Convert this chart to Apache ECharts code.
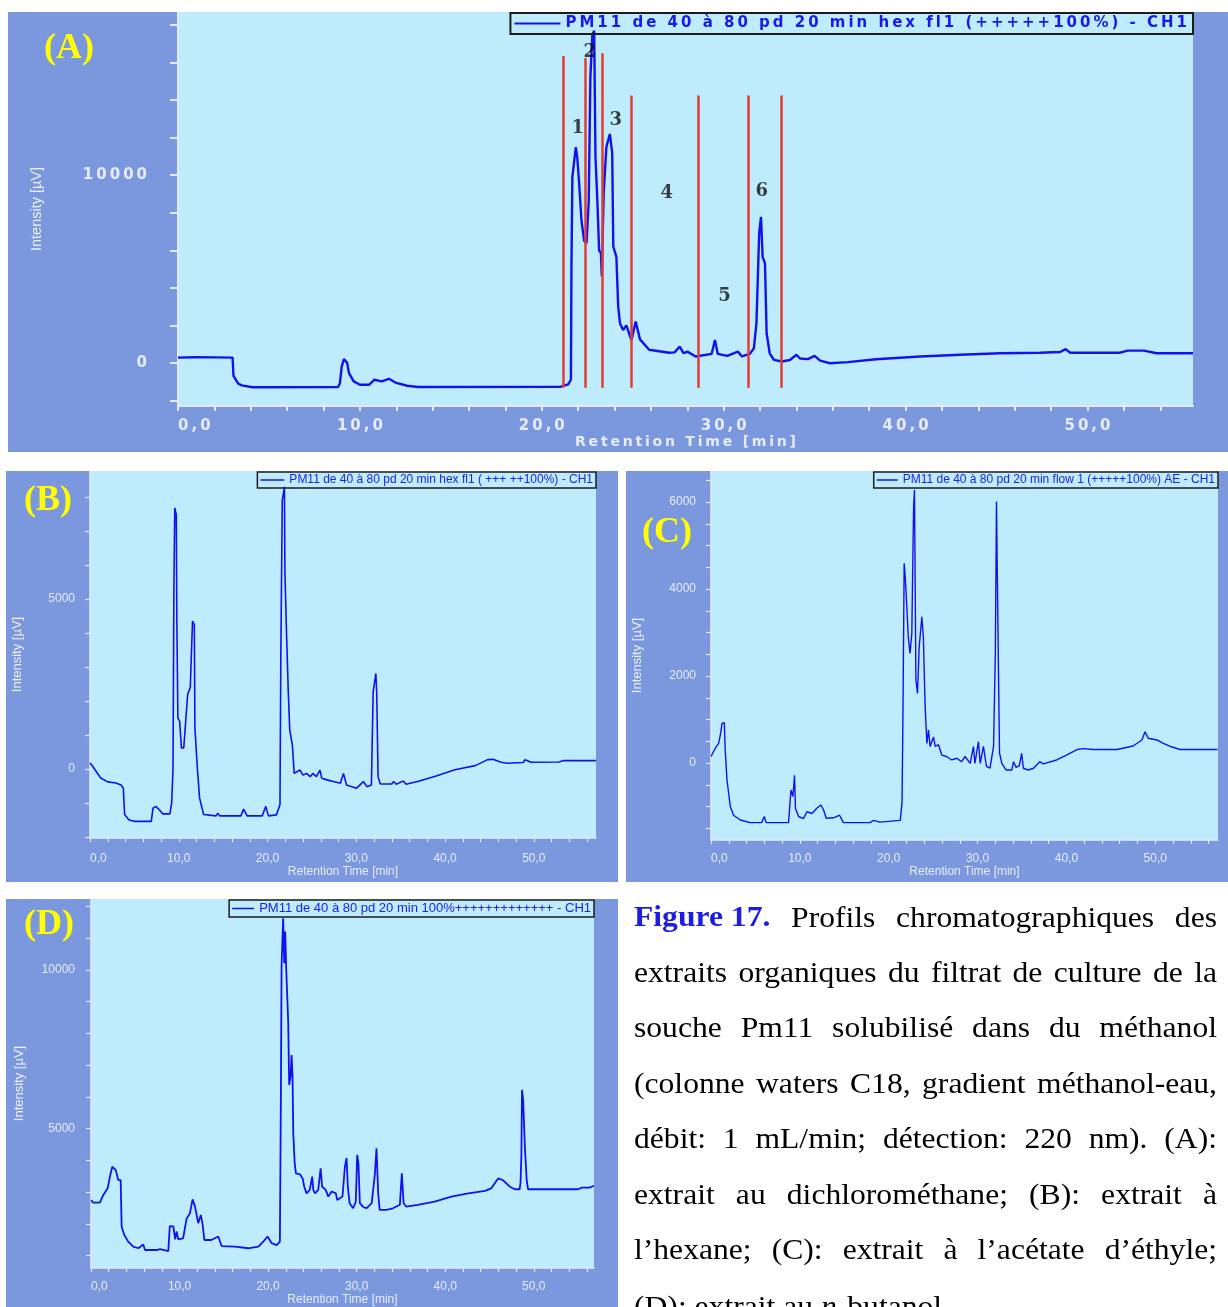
<!DOCTYPE html>
<html>
<head>
<meta charset="utf-8">
<script src="https://cdn.jsdelivr.net/npm/echarts@6/dist/echarts.min.js"></script>
<style>
  html, body { margin: 0; padding: 0; background: #ffffff; }
  #chart { width: 1228px; height: 1307px; }
</style>
</head>
<body>
<div id="chart"></div>
<script>
// ---------- chromatogram data: [retention time (min), intensity (µV)] ----------
const traceA = [[0.0,280],[1.0,300],[2.0,290],[3.0,280],[3.05,-700],[3.3,-1100],[3.5,-1200],[4.1,-1300],[8.8,-1290],[8.9,-1100],[9.0,-200],[9.12,200],[9.3,0],[9.4,-550],[9.66,-990],[10.0,-1170],[10.5,-1170],[10.8,-900],[11.2,-990],[11.6,-850],[11.95,-1050],[12.6,-1220],[13.2,-1290],[21.0,-1280],[21.45,-1150],[21.6,-900],[21.63,5100],[21.68,9900],[21.87,11500],[21.95,10950],[22.05,9600],[22.18,7600],[22.33,6500],[22.46,6380],[22.58,8600],[22.67,15200],[22.78,17500],[22.88,17700],[22.95,11000],[23.06,8500],[23.15,6000],[23.25,5850],[23.3,4600],[23.4,9000],[23.55,11500],[23.74,12200],[23.87,11200],[23.93,6200],[24.1,5650],[24.2,3000],[24.3,2100],[24.47,1750],[24.65,2000],[24.93,1200],[25.16,2200],[25.4,1250],[25.9,700],[27.0,540],[27.3,560],[27.58,870],[27.8,510],[28.0,600],[28.46,340],[29.34,480],[29.52,1220],[29.67,480],[30.2,370],[30.78,600],[31.0,340],[31.44,480],[31.66,780],[31.8,2100],[31.95,6900],[32.05,7780],[32.14,5650],[32.27,5300],[32.36,1580],[32.53,510],[32.76,160],[33.2,70],[33.64,150],[34.0,430],[34.19,230],[34.63,200],[35.0,370],[35.3,120],[35.84,-20],[36.83,40],[38.37,190],[40.8,340],[43.0,430],[45.2,510],[47.4,540],[48.5,580],[48.8,730],[49.05,540],[51.8,540],[52.2,650],[53.1,650],[53.8,510],[55.8,510]];

const traceB = [[0.0,176],[0.3,80],[1.2,-265],[2.0,-380],[2.9,-412],[3.5,-470],[3.75,-560],[3.9,-1340],[4.4,-1500],[5.0,-1540],[6.9,-1540],[7.1,-1150],[7.4,-1100],[7.8,-1200],[8.2,-1320],[9.0,-1320],[9.2,-1000],[9.35,0],[9.45,5320],[9.55,7680],[9.72,7480],[9.78,4440],[9.9,1500],[10.1,1400],[10.3,620],[10.56,620],[10.78,1400],[11.0,2190],[11.3,2400],[11.45,3600],[11.55,4350],[11.75,4250],[11.82,1200],[12.1,0],[12.34,-850],[12.8,-1340],[14.2,-1380],[14.4,-1300],[14.6,-1380],[17.0,-1380],[17.3,-1180],[17.7,-1380],[19.4,-1380],[19.8,-1100],[20.1,-1380],[21.0,-1350],[21.4,-1050],[21.5,3500],[21.66,7900],[21.9,8300],[21.96,5760],[22.15,3890],[22.33,2320],[22.5,1150],[22.8,700],[23.0,-130],[23.65,-30],[24.0,-180],[24.4,-130],[24.8,-225],[25.1,-130],[25.5,-225],[25.9,-30],[26.1,-270],[26.7,-320],[27.4,-370],[28.2,-420],[28.55,-130],[28.9,-470],[29.5,-520],[30.0,-570],[30.8,-370],[31.2,-520],[31.7,-470],[31.9,2270],[32.2,2810],[32.3,2230],[32.45,-225],[32.7,-440],[34.0,-440],[34.2,-370],[34.5,-450],[35.3,-350],[35.6,-450],[37.0,-363],[38.9,-216],[40.0,-118],[41.1,-20],[43.4,98],[44.8,275],[45.4,284],[46.3,196],[47.0,167],[48.8,190],[49.0,270],[49.7,196],[52.8,206],[53.3,245],[57.0,245]];

const traceC = [[0.0,150],[0.1,180],[0.48,340],[0.86,450],[1.1,700],[1.24,910],[1.5,930],[1.6,300],[1.8,-390],[2.17,-1000],[2.54,-1200],[3.3,-1310],[4.4,-1370],[5.7,-1370],[6.0,-1230],[6.2,-1370],[8.73,-1370],[9.0,-620],[9.22,-770],[9.4,-280],[9.5,-1040],[9.86,-1230],[10.4,-1280],[10.8,-1120],[11.36,-1160],[11.9,-1040],[12.37,-965],[12.67,-1080],[12.97,-1270],[13.8,-1260],[14.47,-1200],[14.9,-1370],[17.9,-1370],[18.3,-1320],[19.0,-1360],[21.3,-1320],[21.5,-900],[21.6,1064],[21.74,4590],[21.86,4280],[22.04,3590],[22.2,2900],[22.4,2520],[22.6,2980],[22.8,5890],[22.9,6280],[23.06,1910],[23.24,1600],[23.43,2670],[23.73,3360],[23.9,2900],[24.1,1290],[24.3,450],[24.48,760],[24.66,380],[25.04,600],[25.23,380],[25.6,420],[25.98,180],[26.5,150],[27.1,70],[27.67,110],[28.2,30],[28.6,150],[29.17,-10],[29.54,380],[29.7,-10],[30.1,490],[30.3,-10],[30.66,380],[31.0,-80],[31.4,-120],[31.8,380],[32.0,2530],[32.13,6010],[32.28,3360],[32.47,230],[32.73,-10],[33.2,-160],[33.86,-160],[34.04,30],[34.34,-100],[34.7,-60],[34.96,220],[35.16,-120],[35.7,-160],[36.3,-120],[37.0,30],[37.4,-20],[38.9,70],[40.0,180],[41.2,310],[41.9,330],[43.0,310],[45.7,310],[47.5,390],[48.5,530],[48.85,720],[49.2,570],[50.2,530],[50.9,450],[51.7,380],[52.8,310],[57.0,310]];

const traceD = [[0.0,2750],[0.26,2670],[1.0,2670],[1.39,2910],[1.88,3120],[2.14,3490],[2.4,3800],[2.79,3700],[3.08,3380],[3.35,3380],[3.46,1910],[3.76,1650],[4.2,1440],[4.77,1280],[5.34,1230],[5.9,1350],[6.1,1175],[7.4,1175],[7.8,1200],[8.73,1140],[8.9,1930],[9.3,1920],[9.5,1510],[9.67,1760],[9.86,1510],[10.4,1540],[10.8,2170],[11.17,2330],[11.47,2770],[11.74,2550],[11.93,2280],[12.1,2020],[12.4,2280],[12.6,1990],[12.8,1490],[13.6,1490],[14.37,1600],[14.75,1300],[16.25,1280],[17.75,1230],[18.9,1280],[19.45,1440],[19.94,1600],[20.4,1390],[20.96,1330],[21.33,1440],[21.44,5900],[21.52,10160],[21.7,11630],[21.82,10210],[21.93,11210],[22.05,10000],[22.27,8370],[22.38,6380],[22.54,6640],[22.65,7320],[22.76,6640],[22.84,4850],[23.0,3910],[23.14,3590],[23.6,3560],[23.9,3430],[24.08,3170],[24.34,2960],[24.7,3070],[24.98,3490],[25.1,3070],[25.3,2960],[25.66,3070],[25.93,3750],[26.1,3170],[26.5,3070],[26.8,2860],[27.17,3020],[27.65,2960],[27.8,2750],[28.4,2860],[28.67,3800],[28.86,4070],[29.0,3170],[29.2,2650],[29.6,2490],[29.9,2700],[30.06,4170],[30.2,3910],[30.36,2650],[30.7,2540],[31.1,2490],[31.7,2650],[32.05,3540],[32.24,4380],[32.43,2960],[32.6,2440],[33.37,2440],[34.1,2490],[34.88,2600],[35.1,3590],[35.3,2650],[35.6,2540],[36.9,2600],[38.8,2700],[40.7,2860],[42.6,2960],[44.5,3040],[45.2,3120],[45.97,3430],[46.5,3380],[47.3,3170],[47.86,3090],[48.4,3090],[48.5,3280],[48.6,4140],[48.67,6220],[48.8,5900],[49.0,4380],[49.2,3380],[49.35,3090],[55.0,3090],[55.4,3140],[56.3,3140],[56.8,3200]];

// collected fractions on the dichloromethane run
const fractionCutTime  = [21.17, 22.4, 23.31, 24.91, 28.58, 31.35, 33.17];
const fractionCutTop   = [16350, 16250, 16500, 14250, 14250, 14250, 14250];
const fractionCutFloor = -1330;
const fractionName       = ['1', '2', '3', '4', '5', '6'];
const fractionLabelTime  = [21.98, 22.64, 24.07, 26.87, 30.05, 32.09];
const fractionLabelLevel = [12520, 16570, 12940, 9050, 3560, 9160];

// run titles
const nameA = 'PM11 de 40 à 80 pd 20 min hex fl1 (+++++100%) - CH1';
const nameB = 'PM11 de 40 à 80 pd 20 min hex fl1 ( +++ ++100%) - CH1';
const nameC = 'PM11 de 40 à 80 pd 20 min flow 1 (+++++100%) AE - CH1';
const nameD = 'PM11 de 40 à 80 pd 20 min 100%+++++++++++++ - CH1';

// axis tick labels
const timeTickLabels = [0, 10, 20, 30, 40, 50];
const timeMinorTicks = [0, 2, 4, 6, 8, 10, 12, 14, 16, 18, 20, 22, 24, 26, 28, 30, 32, 34, 36, 38, 40, 42, 44, 46, 48, 50, 52, 54, 56];
const intensityLabelsA = [0, 10000];
const intensityLabelsB = [0, 5000];
const intensityLabelsC = [0, 2000, 4000, 6000];
const intensityLabelsD = [5000, 10000];
const intensityTicksA = [-2000, 0, 2000, 4000, 6000, 8000, 10000, 12000, 14000, 16000, 18000];
const intensityTicksB = [-2000, -1000, 0, 1000, 2000, 3000, 4000, 5000, 6000, 7000, 8000];
const intensityTicksC = [-1500, -1000, -500, 0, 500, 1000, 1500, 2000, 2500, 3000, 3500, 4000, 4500, 5000, 5500, 6000, 6500];
const intensityTicksD = [1000, 2000, 3000, 4000, 5000, 6000, 7000, 8000, 9000, 10000, 11000, 12000];

// caption
const captionLines = [
  ['Figure\u00a017.', 'Profils', 'chromatographiques', 'des'],
  'extraits organiques du filtrat de culture de la'.split(' '),
  'souche Pm11 solubilisé dans du méthanol'.split(' '),
  '(colonne waters C18, gradient méthanol-eau,'.split(' '),
  'débit: 1 mL/min; détection: 220 nm). (A):'.split(' '),
  'extrait au dichlorométhane; (B): extrait à'.split(' '),
  'l’hexane; (C): extrait à l’acétate d’éthyle;'.split(' ')
];

// ---------- styling ----------
const FRAME = '#7b97de';
const PLOT = '#bfecfc';
const AXIS_LIGHT = '#e3eafc';
const LABEL_LIGHT = '#e6ecfd';
const TRACE = '#1212ee';
const CUT = '#e63c30';
const THIN = '\u2009';
const spaced = s => String(s).split('').join(THIN);
const fmtMin = v => v.toFixed(1).replace('.', ',');

const bigFont = { fontFamily: '"DejaVu Sans", Verdana, sans-serif', fontWeight: 'bold', fontSize: 15, color: LABEL_LIGHT };
const smallFont = { fontFamily: '"Liberation Sans", Arial, sans-serif', fontSize: 12, color: LABEL_LIGHT };

function timeAxis(gridIndex, max, big, labelMargin, nameGap) {
  return {
    type: 'value', gridIndex, min: 0, max,
    axisLine: { show: true, onZero: false, lineStyle: { color: AXIS_LIGHT, width: big ? 2 : 1.5 } },
    axisTick: { show: true, customValues: timeMinorTicks.filter(v => v <= max), length: big ? 5 : 4,
                lineStyle: { color: AXIS_LIGHT, width: big ? 2 : 1.2 } },
    axisLabel: Object.assign({ customValues: timeTickLabels, margin: labelMargin, alignMinLabel: 'left',
                formatter: v => big ? spaced(fmtMin(v)) : fmtMin(v) }, big ? bigFont : smallFont),
    splitLine: { show: false },
    name: big ? spaced('Retention Time [min]') : 'Retention Time [min]',
    nameLocation: 'middle', nameGap,
    nameTextStyle: big ? Object.assign({}, bigFont, { fontSize: 14 }) : Object.assign({}, smallFont)
  };
}

function intensityAxis(gridIndex, min, max, ticks, labels, big, labelMargin, nameGap) {
  return {
    type: 'value', gridIndex, min, max,
    axisLine: { show: true, onZero: false, lineStyle: { color: AXIS_LIGHT, width: big ? 2 : 1.5 } },
    axisTick: { show: true, customValues: ticks, length: big ? 8 : 5,
                lineStyle: { color: AXIS_LIGHT, width: big ? 2 : 1.2 } },
    axisLabel: Object.assign({ customValues: labels, margin: labelMargin,
                formatter: v => big ? spaced(String(v)) : String(v) }, big ? bigFont : smallFont),
    splitLine: { show: false },
    name: 'Intensity [µV]', nameLocation: 'middle', nameRotate: 90, nameGap,
    nameTextStyle: big ? { fontFamily: '"Liberation Sans", Arial, sans-serif', fontSize: 14.5, color: '#eef2ff' }
                       : { fontFamily: '"Liberation Sans", Arial, sans-serif', fontSize: 13, color: '#eef2ff' }
  };
}

function runLegend(name, top, right, big, itemWidth, padding, fontSize) {
  return {
    show: true, top, right, data: [name], selectedMode: false,
    icon: 'rect', itemWidth, itemHeight: big ? 2 : 1.5, padding,
    borderColor: '#1b1b1b', borderWidth: big ? 2 : 1.5, borderRadius: 0,
    formatter: big ? spaced : (n => n),
    textStyle: big ? { fontFamily: '"DejaVu Sans", Verdana, sans-serif', fontWeight: 'bold', fontSize: 15, color: '#1a1ae8' }
                   : { fontFamily: '"Liberation Sans", Arial, sans-serif', fontSize: fontSize || 12, color: '#2020ee' }
  };
}

function traceSeries(name, idx, data, width) {
  return {
    type: 'line', name, xAxisIndex: idx, yAxisIndex: idx, data,
    showSymbol: false, symbol: 'none', smooth: false, z: 3,
    lineStyle: { color: TRACE, width }, itemStyle: { color: TRACE }
  };
}

// ---------- caption layout (justified lines, Times set slightly wide) ----------
const CAP_X0 = 634, CAP_X1 = 1217, CAP_Y0 = 919, CAP_STEP = 55.4, CAP_STRETCH = 1.09;
const capFont = '29px "Liberation Serif", "Times New Roman", serif';
const capBold = 'bold 29px "Liberation Serif", "Times New Roman", serif';
const capItalic = 'italic 29px "Liberation Serif", "Times New Roman", serif';
const measureCtx = document.createElement('canvas').getContext('2d');
const textWidth = (t, f) => { measureCtx.font = f; return measureCtx.measureText(t).width * CAP_STRETCH; };

function capWord(text, font, fill, x, y) {
  return { type: 'text', x, y, scaleX: CAP_STRETCH, z: 10,
    style: { text, font, fill, textAlign: 'left', textVerticalAlign: 'middle', verticalAlign: 'middle' } };
}

function captionGraphics() {
  const out = [];
  captionLines.forEach((words, li) => {
    const fonts = words.map((w, wi) => (li === 0 && wi === 0) ? capBold : capFont);
    const widths = words.map((w, wi) => textWidth(w, fonts[wi]));
    const total = widths.reduce((a, b) => a + b, 0);
    const gap = (CAP_X1 - CAP_X0 - total) / (words.length - 1);
    let x = CAP_X0;
    const y = CAP_Y0 + li * CAP_STEP;
    words.forEach((w, wi) => {
      out.push(capWord(w, fonts[wi], (li === 0 && wi === 0) ? '#1c1ce6' : '#000000', x, y));
      x += widths[wi] + gap;
    });
  });
  // last line, set ragged-right
  const y = CAP_Y0 + captionLines.length * CAP_STEP + 2;
  const parts = [['(D): extrait au ', capFont], ['n', capItalic], ['-butanol.', capFont]];
  let x = CAP_X0;
  parts.forEach(([t, f]) => {
    out.push(capWord(t, f, '#000000', x, y));
    x += textWidth(t, f);
  });
  return out;
}

function panelLetter(text, x, y) {
  return { type: 'text', x, y, z: 20,
    style: { text, font: 'bold 36px "Liberation Serif", "Times New Roman", serif', fill: '#ffff00',
             textAlign: 'left', textVerticalAlign: 'middle', verticalAlign: 'middle' } };
}

function frame(x, y, w, h) {
  return { type: 'rect', z: -5, shape: { x, y, width: w, height: h }, style: { fill: FRAME } };
}

// ---------- chart ----------
const chart = echarts.init(document.getElementById('chart'), null, { renderer: 'canvas' });

const option = {
  backgroundColor: '#ffffff',
  animation: false,
  grid: [
    { left: 178, top: 12, width: 1015, height: 394, show: true, backgroundColor: PLOT, borderWidth: 0 },
    { left: 90, top: 471, width: 506, height: 367, show: true, backgroundColor: PLOT, borderWidth: 0 },
    { left: 711, top: 471, width: 507, height: 369, show: true, backgroundColor: PLOT, borderWidth: 0 },
    { left: 91, top: 899, width: 503, height: 369, show: true, backgroundColor: PLOT, borderWidth: 0 }
  ],
  xAxis: [
    timeAxis(0, 55.8, true, 13, 24),
    timeAxis(1, 57.0, false, 15, 28),
    timeAxis(2, 57.06, false, 13, 26),
    timeAxis(3, 56.8, false, 13, 22)
  ],
  yAxis: [
    intensityAxis(0, -2300, 18700, intensityTicksA, intensityLabelsA, true, 31, 134),
    intensityAxis(1, -2030, 8765, intensityTicksB, intensityLabelsB, false, 15, 66),
    intensityAxis(2, -1770, 6713, intensityTicksC, intensityLabelsC, false, 15, 67),
    intensityAxis(3, 608, 12238, intensityTicksD, intensityLabelsD, false, 16, 65)
  ],
  legend: [
    runLegend(nameA, 13, 35, true, 46, [3, 6, 3, 4]),
    runLegend(nameB, 472, 632, false, 24, [2, 3, 2, 3]),
    runLegend(nameC, 472, 10, false, 21, [2, 3, 2, 3]),
    runLegend(nameD, 900, 634, false, 22, [2, 3, 2, 3], 13)
  ],
  series: [
    Object.assign(traceSeries(nameA, 0, traceA, 2.4), {
      markLine: {
        silent: true, symbol: 'none', animation: false,
        label: { show: false },
        lineStyle: { color: CUT, width: 2.5, type: 'solid' },
        data: fractionCutTime.map((t, i) => [{ coord: [t, fractionCutFloor] }, { coord: [t, fractionCutTop[i]] }])
      }
    }),
    {
      type: 'scatter', name: 'fractions', xAxisIndex: 0, yAxisIndex: 0, silent: true, z: 6,
      symbolSize: 1, itemStyle: { color: 'rgba(0,0,0,0)' },
      data: fractionName.map((n, i) => [fractionLabelTime[i], fractionLabelLevel[i], n]),
      label: { show: true, position: 'inside', formatter: p => p.data[2],
               fontFamily: '"DejaVu Serif", "Liberation Serif", serif', fontWeight: 'bold', fontSize: 18, color: '#111111' }
    },
    traceSeries(nameB, 1, traceB, 1.6),
    traceSeries(nameC, 2, traceC, 1.4),
    traceSeries(nameD, 3, traceD, 1.8)
  ],
  graphic: [
    frame(8, 12, 1220, 440),
    frame(6, 471, 612, 411),
    frame(626, 471, 602, 411),
    frame(6, 899, 612, 408),
    panelLetter('(A)', 44, 49),
    panelLetter('(B)', 24, 501),
    panelLetter('(C)', 642, 533),
    panelLetter('(D)', 24, 925)
  ].concat(captionGraphics())
};

chart.setOption(option);
</script>
</body>
</html>
